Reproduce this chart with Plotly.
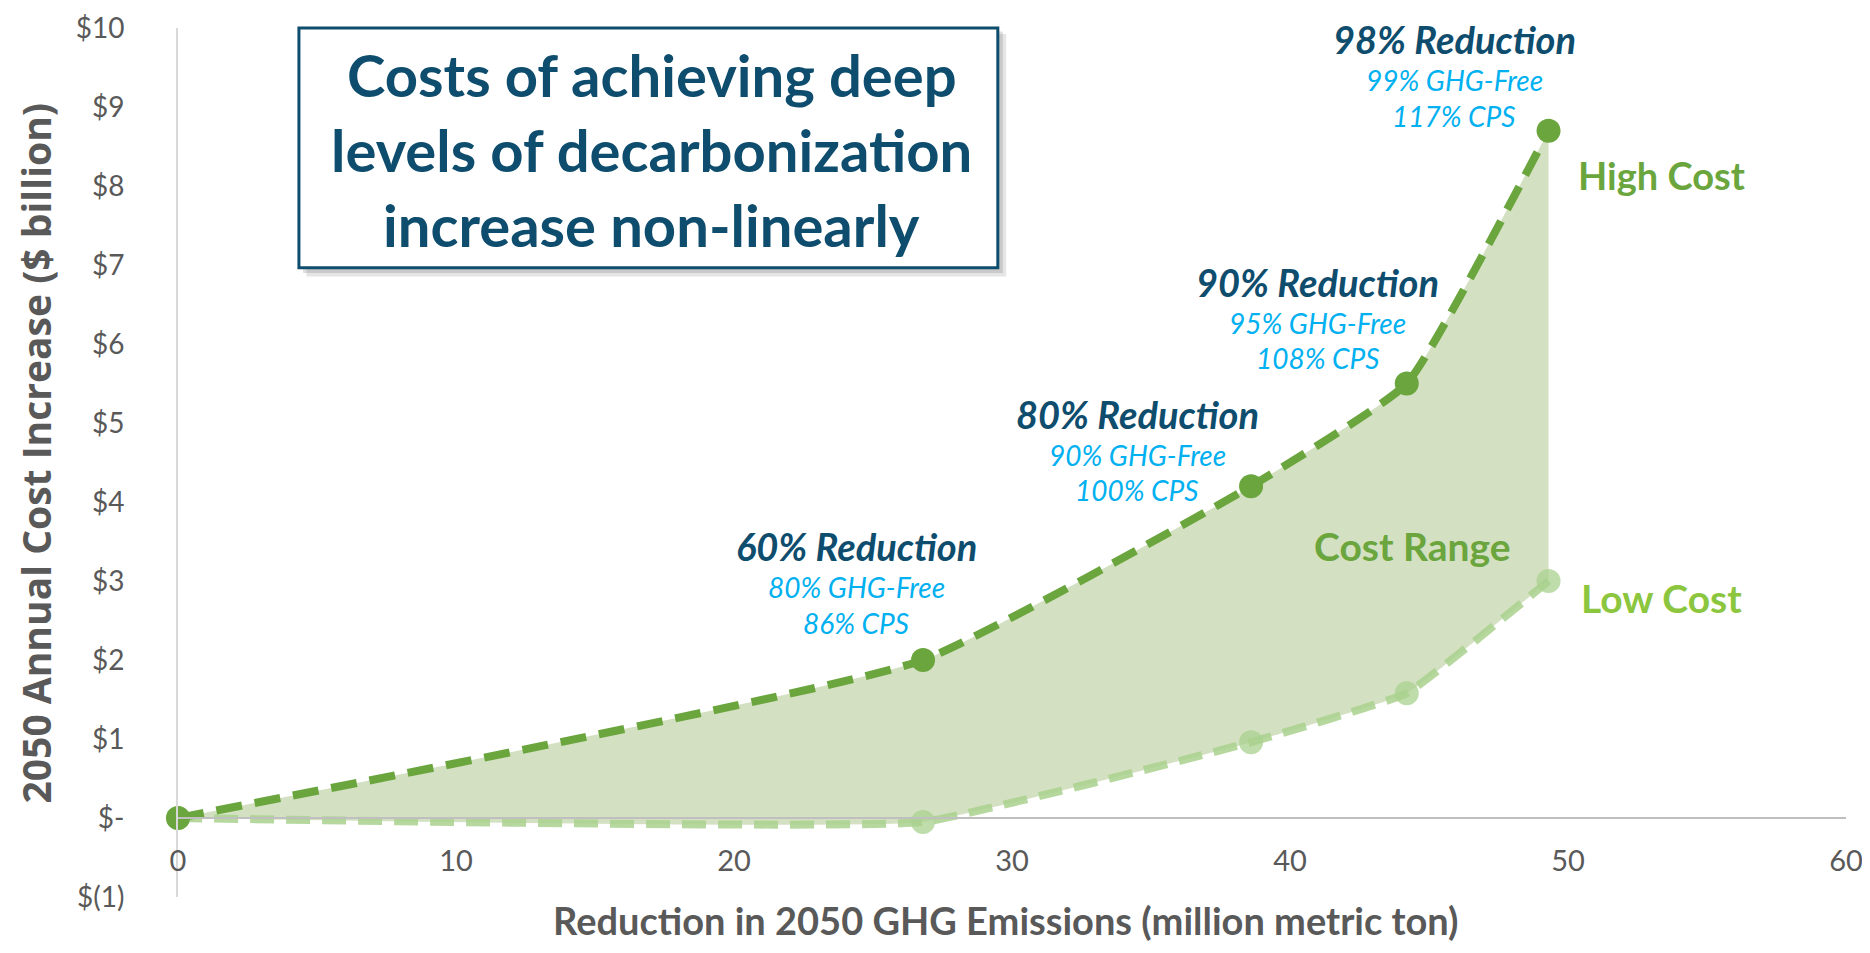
import plotly.graph_objects as go

# Reduction in 2050 GHG emissions (million metric ton) for each scenario
reduction_mmt = [0, 26.8, 38.6, 44.2, 49.3]
# 2050 annual cost increase ($ billion)
high_cost = [0, 2.0, 4.2, 5.5, 8.7]
low_cost = [0, -0.05, 0.96, 1.58, 3.0]

# Scenario labels (one per non-zero point)
reduction_labels = ["60% Reduction", "80% Reduction", "90% Reduction", "98% Reduction"]
ghg_free_labels = ["80% GHG-Free", "90% GHG-Free", "95% GHG-Free", "99% GHG-Free"]
cps_labels = ["86% CPS", "100% CPS", "108% CPS", "117% CPS"]

# Axis ticks
y_tickvals = [-1, 0, 1, 2, 3, 4, 5, 6, 7, 8, 9, 10]
y_ticktext = ["$(1)", "$-", "$1", "$2", "$3", "$4", "$5", "$6", "$7", "$8", "$9", "$10"]
x_tickvals = [0, 10, 20, 30, 40, 50, 60]

title_lines = ["Costs of achieving deep", "levels of decarbonization", "increase non-linearly"]

DARK_TEAL = "#0E4D6D"
SKY = "#00B0F0"
GREEN = "#6AA53D"
LOW_TEXT = "#8CC63F"
GRAY = "#595959"
FONT = "Lato"

Y_MIN, Y_MAX = -1, 10

fig = go.Figure()

# low cost line (drawn first so the range fill of the next trace sits under it)
fig.add_trace(go.Scatter(
    x=reduction_mmt, y=low_cost, mode="lines+markers",
    line=dict(color="rgba(169,209,142,0.85)", width=8, dash="24px,12px", shape="spline", smoothing=0.3),
    marker=dict(size=24, color="rgba(169,209,142,0.75)"),
    cliponaxis=False, showlegend=False, hoverinfo="x+y",
))

# high cost line, filled down to the low cost line
fig.add_trace(go.Scatter(
    x=reduction_mmt, y=high_cost, mode="lines+markers",
    line=dict(color=GREEN, width=8, dash="26px,13px", shape="spline", smoothing=0.4),
    marker=dict(size=24, color=GREEN),
    fill="tonexty", fillcolor="rgba(167,193,131,0.5)",
    cliponaxis=False, showlegend=False, hoverinfo="x+y",
))

# scenario label blocks: anchor position in data units
label_x = [24.4, 34.5, 41.0, 45.9]
label_y = [3.44, 5.12, 6.79, 9.86]
sub_gap = [0.52, 0.97]

annotations = []
for i in range(len(reduction_labels)):
    annotations.append(dict(
        x=label_x[i], y=label_y[i], text="<b><i>" + reduction_labels[i] + "</i></b>",
        showarrow=False, font=dict(family=FONT, size=38, color=DARK_TEAL),
    ))
    annotations.append(dict(
        x=label_x[i], y=label_y[i] - sub_gap[0], text="<i>" + ghg_free_labels[i] + "</i>",
        showarrow=False, font=dict(family=FONT, size=28, color=SKY),
    ))
    annotations.append(dict(
        x=label_x[i], y=label_y[i] - sub_gap[1], text="<i>" + cps_labels[i] + "</i>",
        showarrow=False, font=dict(family=FONT, size=28, color=SKY),
    ))

annotations += [
    dict(x=53.35, y=8.14, text="<b>High Cost</b>", showarrow=False,
         font=dict(family=FONT, size=38, color=GREEN)),
    dict(x=44.4, y=3.44, text="<b>Cost Range</b>", showarrow=False,
         font=dict(family=FONT, size=39, color=GREEN)),
    dict(x=53.35, y=2.79, text="<b>Low Cost</b>", showarrow=False,
         font=dict(family=FONT, size=39, color=LOW_TEXT)),
]

# axis titles
annotations.append(dict(
    xref="paper", yref="paper", x=0.5, y=-0.026, yanchor="middle", xanchor="center",
    text="<b>Reduction in 2050 GHG Emissions (million metric ton)</b>",
    showarrow=False, font=dict(family=FONT, size=38, color=GRAY),
    xshift=-6,
))
annotations.append(dict(
    xref="paper", yref="paper", x=0, y=0.5, xshift=-143, yshift=9,
    xanchor="center", yanchor="middle", textangle=-90,
    text="<b>2050 Annual Cost Increase ($ billion)</b>",
    showarrow=False, font=dict(family="Open Sans", size=39, color=GRAY),
))

# title box text, one annotation per line
for i, line in enumerate(title_lines):
    annotations.append(dict(
        xref="paper", yref="paper", x=0.284, y=0.946 - i * 0.0862,
        xanchor="center", yanchor="middle",
        text="<b>" + line + "</b>", showarrow=False,
        font=dict(family=FONT, size=58, color=DARK_TEAL),
    ))

shapes = [
    # soft drop shadow
    dict(type="rect", xref="paper", yref="paper", x0=0.077, x1=0.4965, y0=0.714, y1=0.993,
         fillcolor="rgba(0,0,0,0.10)", line=dict(width=0), layer="above"),
    dict(type="rect", xref="paper", yref="paper", x0=0.075, x1=0.4945, y0=0.718, y1=0.996,
         fillcolor="rgba(0,0,0,0.12)", line=dict(width=0), layer="above"),
    # title box
    dict(type="rect", xref="paper", yref="paper", x0=0.0725, x1=0.4915, y0=0.724, y1=1.0,
         fillcolor="white", line=dict(color=DARK_TEAL, width=3), layer="above"),
]

# the page body keeps an 8px margin, so the figure is sized to fit inside it
fig.update_layout(
    width=1854, height=937,
    margin=dict(l=170, r=16, t=20, b=48),
    paper_bgcolor="white", plot_bgcolor="white",
    font=dict(family=FONT, color=GRAY),
    xaxis=dict(
        range=[0, 60], tickvals=x_tickvals, showgrid=False, zeroline=False,
        showline=True, linecolor="#BFBFBF", linewidth=2,
        anchor="free", position=(0 - Y_MIN) / (Y_MAX - Y_MIN),
        ticks="", ticklabelstandoff=17, automargin=False, ticklabeloverflow="allow",
        tickfont=dict(family=FONT, size=29, color=GRAY),
    ),
    yaxis=dict(
        range=[Y_MIN, Y_MAX], tickvals=y_tickvals, ticktext=y_ticktext,
        showgrid=False, zeroline=False, showline=True, linecolor="#D9D9D9", linewidth=2,
        ticks="", ticklabelstandoff=46, automargin=False, ticklabeloverflow="allow",
        tickfont=dict(family=FONT, size=28, color=GRAY),
    ),
    annotations=annotations,
    shapes=shapes,
)

fig.write_html("out.html")
